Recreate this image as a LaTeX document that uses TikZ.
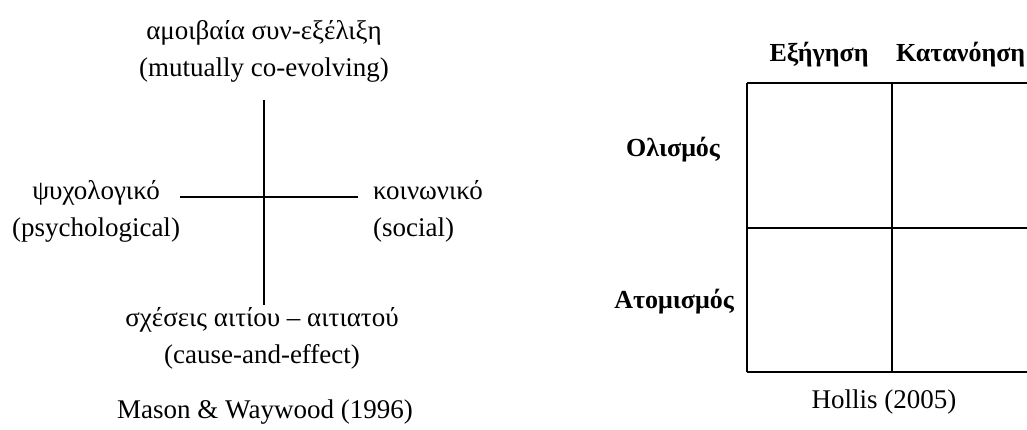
\documentclass[tikz,border=0pt]{standalone}
\usepackage{fontspec}
\setmainfont{Liberation Serif}
\begin{document}
\begin{tikzpicture}[x=1pt,y=-1pt]
  \tikzstyle{lbl}=[font=\fontsize{27}{37}\selectfont, align=center, inner sep=0pt]
  \tikzstyle{hdr}=[font=\fontsize{26}{30}\selectfont\bfseries, inner sep=0pt]
  \tikzstyle{axis}=[line width=1.5pt, black]
  \clip (0,0) rectangle (1027,430);

  % Mason & Waywood: axes
  \coordinate (up) at (264,100);
  \coordinate (down) at (264,305);
  \coordinate (lft) at (180,197);
  \coordinate (rgt) at (358,197);
  \draw[axis] (up) -- (down);
  \draw[axis] (lft) -- (rgt);

  \node[lbl] (coevol) at (264,51) {αμοιβαία συν-εξέλιξη\\(mutually co-evolving)};
  \node[lbl] (psych) at (96,211) {ψυχολογικό\\(psychological)};
  \node[lbl, anchor=west, align=left] (social) at (373,211) {κοινωνικό\\(social)};
  \node[lbl] (cause) at (262,338) {σχέσεις αιτίου – αιτιατού\\(cause-and-effect)};
  \node[lbl] (mason) at (265,412) {Mason \& Waywood (1996)};

  % Hollis: 2x2 grid
  \foreach \x in {747,892,1037} {
    \draw[axis] (\x,83) -- (\x,372);
  }
  \foreach \y in {83,228,372} {
    \draw[axis] (747,\y) -- (1037,\y);
  }
  \node[hdr] (expl) at (819,55) {Εξήγηση};
  \node[hdr, anchor=west] (underst) at (896,55) {Κατανόηση};
  \node[hdr] (holism) at (673,150) {Ολισμός};
  \node[hdr] (individ) at (674,302) {Ατομισμός};
  \node[lbl] (hollis) at (884,402) {Hollis (2005)};
\end{tikzpicture}
\end{document}
